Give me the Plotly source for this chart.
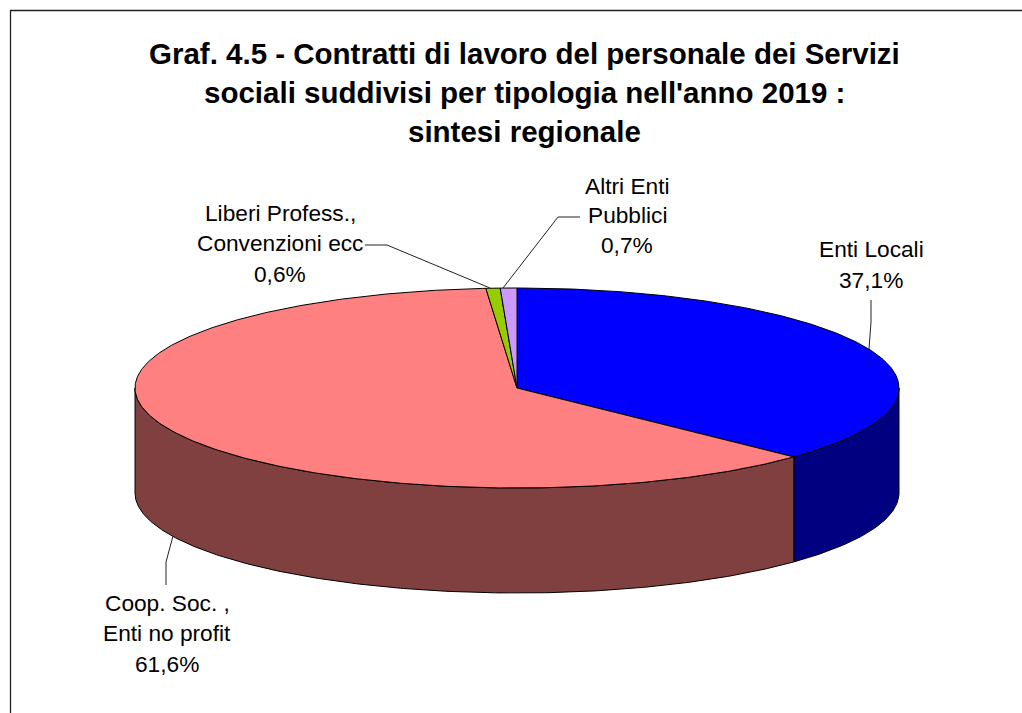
import numpy as np
import plotly.graph_objects as go

# --- data (clockwise from 12 o'clock) ---
categories = ["Enti Locali", "Coop. Soc. , Enti no profit", "Liberi Profess., Convenzioni ecc", "Altri Enti Pubblici"]
values = [37.1, 61.6, 0.6, 0.7]
top_colors = ["#0000FF", "#FF8080", "#99CC00", "#CC99FF"]
side_colors = ["#000080", "#804040", "#4D6600", "#664D80"]

title_lines = ["Graf. 4.5 - Contratti di lavoro del personale dei Servizi",
               "sociali suddivisi per tipologia nell'anno 2019 :",
               "sintesi regionale"]
title_y = [53, 92, 131]
title_x = 524.5

label_lines = [["Enti Locali", "37,1%"],
               ["Coop. Soc. ,", "Enti no profit", "61,6%"],
               ["Liberi Profess.,", "Convenzioni ecc", "0,6%"],
               ["Altri Enti", "Pubblici", "0,7%"]]
label_x = [871, 167, 280, 627]
label_y = [[249, 280], [603, 633, 664], [213, 243, 274], [186, 215, 245]]
leader_x = [[871, 871, 869], [166, 166, 173], [365, 387, 490], [580, 558, 503]]
leader_y = [[300, 322, 349], [585, 562, 536], [245, 245, 288], [217, 217, 288]]

# --- pie geometry, in the page's pixel-mapped axes ---
W, H = 1022, 713
CX, CY, RX, RY, DEPTH = 517.0, 388.0, 382.0, 100.0, 105.0
FONT = "Liberation Sans, Arial, sans-serif"


def rim(a0, a1, dy=0.0, step=0.5):
    n = max(2, int(abs(a1 - a0) / step) + 1)
    a = np.radians(np.linspace(a0, a1, n))
    return CX + RX * np.sin(a), CY - RY * np.cos(a) + dy


fig = go.Figure()
edges = np.concatenate([[0], np.cumsum(values)]) * 3.6

# side walls: only the front half of the rim (90..270 degrees) is visible
for i in range(len(values)):
    a0, a1 = max(edges[i], 90), min(edges[i + 1], 270)
    if a1 <= a0:
        continue
    x0, y0 = rim(a0, a1)
    x1, y1 = rim(a1, a0, DEPTH)
    fig.add_trace(go.Scatter(x=np.r_[x0, x1, x0[0]], y=np.r_[y0, y1, y0[0]], mode="lines",
                             fill="toself", fillcolor=side_colors[i],
                             line=dict(color="#000000", width=1), hoverinfo="skip", showlegend=False))

# top faces
for i, name in enumerate(categories):
    x, y = rim(edges[i], edges[i + 1])
    fig.add_trace(go.Scatter(x=np.r_[CX, x, CX], y=np.r_[CY, y, CY], mode="lines",
                             fill="toself", fillcolor=top_colors[i], name=name,
                             line=dict(color="#000000", width=1), hoverinfo="skip", showlegend=False))

# leader lines
for lx, ly in zip(leader_x, leader_y):
    fig.add_trace(go.Scatter(x=lx, y=ly, mode="lines", line=dict(color="#222222", width=1),
                             hoverinfo="skip", showlegend=False))

# outer frame (its right and bottom sides lie outside the picture)
fig.add_trace(go.Scatter(x=[10.5, 10.5, W], y=[H, 10.5, 10.5], mode="lines",
                         line=dict(color="#222222", width=1.3), hoverinfo="skip", showlegend=False))

annotations = []
for text, y in zip(title_lines, title_y):
    annotations.append(dict(x=title_x, y=y, text=f"<b>{text}</b>", showarrow=False, xanchor="center", yanchor="middle",
                            font=dict(family=FONT, size=29.5, color="#000000")))
for lines, x, ys in zip(label_lines, label_x, label_y):
    for text, y in zip(lines, ys):
        annotations.append(dict(x=x, y=y, text=text, showarrow=False, xanchor="center", yanchor="middle",
                                font=dict(family=FONT, size=22.7, color="#000000")))

fig.update_layout(width=W, height=H, autosize=False, margin=dict(l=0, r=0, t=0, b=0),
                  paper_bgcolor="#FFFFFF", plot_bgcolor="#FFFFFF", showlegend=False,
                  annotations=annotations,
                  xaxis=dict(range=[0, W], visible=False, fixedrange=True),
                  yaxis=dict(range=[H, 0], visible=False, fixedrange=True))

fig.write_html("out.html", config=dict(displayModeBar=False),
               post_script="document.body.style.margin='0';document.body.style.overflow='hidden';")
